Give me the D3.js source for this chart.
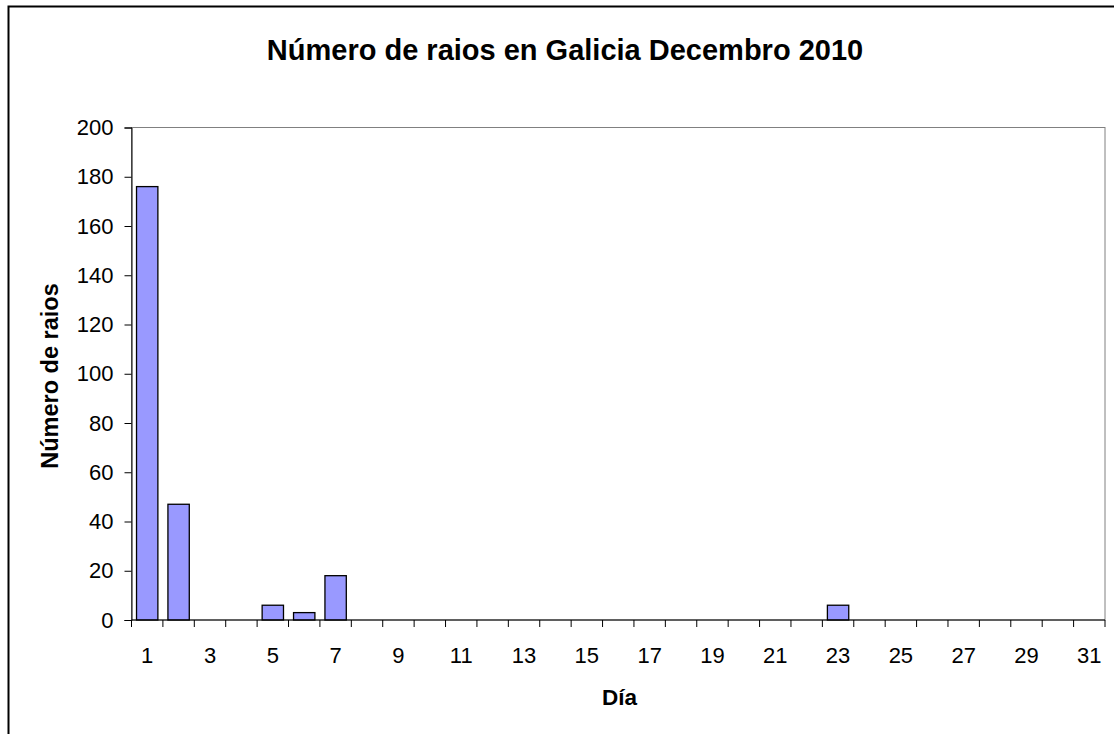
<!DOCTYPE html>
<html><head><meta charset="utf-8">
<script src="https://cdn.jsdelivr.net/npm/d3@7"></script>
<style>body{margin:0;background:#fff}svg{display:block}</style>
</head><body>
<svg id="c" width="1114" height="734"></svg>
<script>
const days = d3.range(1, 32);
const values = [176,47,0,0,6,3,18,0,0,0,0,0,0,0,0,0,0,0,0,0,0,0,6,0,0,0,0,0,0,0,0];
const yTicks = [0,20,40,60,80,100,120,140,160,180,200];
const xTickLabels = [1,3,5,7,9,11,13,15,17,19,21,23,25,27,29,31];
const title = "Número de raios en Galicia Decembro 2010";
const yTitle = "Número de raios";
const xTitle = "Día";

const svg = d3.select("#c");
const font = "'Liberation Sans', Arial, sans-serif";
const L = 131.5, R = 1105, T = 127.5, B = 620;

svg.append("rect").attr("x",8.5).attr("y",6.5).attr("width",1114).attr("height",740)
  .attr("fill","#fff").attr("stroke","#000").attr("stroke-width",2);

const x = d3.scaleBand().domain(days).range([L,R]).paddingInner(0.32).paddingOuter(0.16);
const xb = d3.scaleBand().domain(days).range([L,R]);
const y = d3.scaleLinear().domain([0,200]).range([B,T]);

svg.append("rect").attr("x",L).attr("y",T).attr("width",R-L).attr("height",B-T)
  .attr("fill","none").attr("stroke","#808080").attr("stroke-width",1);

svg.selectAll(".bar").data(days).enter().filter(d=>values[d-1]>0).append("rect")
  .attr("x",d=>x(d)).attr("width",x.bandwidth())
  .attr("y",d=>y(values[d-1])).attr("height",d=>B-y(values[d-1]))
  .attr("fill","#9999ff").attr("stroke","#000").attr("stroke-width",1.3);

// y axis
const ya = svg.append("g").attr("transform",`translate(${L},0)`)
  .call(d3.axisLeft(y).tickValues(yTicks).tickSize(7).tickPadding(11));
ya.select(".domain").attr("stroke","#000");
ya.selectAll("line").attr("stroke","#000");
ya.selectAll("text").attr("font-family",font).attr("font-size",22).attr("fill","#000");

// x axis
const xg = svg.append("g");
xg.append("line").attr("x1",L).attr("x2",R).attr("y1",B).attr("y2",B).attr("stroke","#000");
const bounds = days.map(d=>xb(d)).concat([R]);
xg.selectAll(".tk").data(bounds).enter().append("line")
  .attr("x1",d=>d).attr("x2",d=>d).attr("y1",B).attr("y2",B+7).attr("stroke","#000");
xg.selectAll(".lb").data(xTickLabels).enter().append("text")
  .attr("x",d=>xb(d)+xb.bandwidth()/2).attr("y",B+43).attr("text-anchor","middle")
  .attr("font-family",font).attr("font-size",22).text(d=>d);

svg.append("text").attr("x",565).attr("y",60).attr("text-anchor","middle")
  .attr("font-family",font).attr("font-size",29).attr("font-weight","bold").text(title);
svg.append("text").attr("x",619.5).attr("y",705).attr("text-anchor","middle")
  .attr("font-family",font).attr("font-size",22.5).attr("font-weight","bold").text(xTitle);
svg.append("text").attr("transform","translate(58,376) rotate(-90)").attr("text-anchor","middle")
  .attr("font-family",font).attr("font-size",23.5).attr("font-weight","bold").text(yTitle);
</script>
</body></html>
